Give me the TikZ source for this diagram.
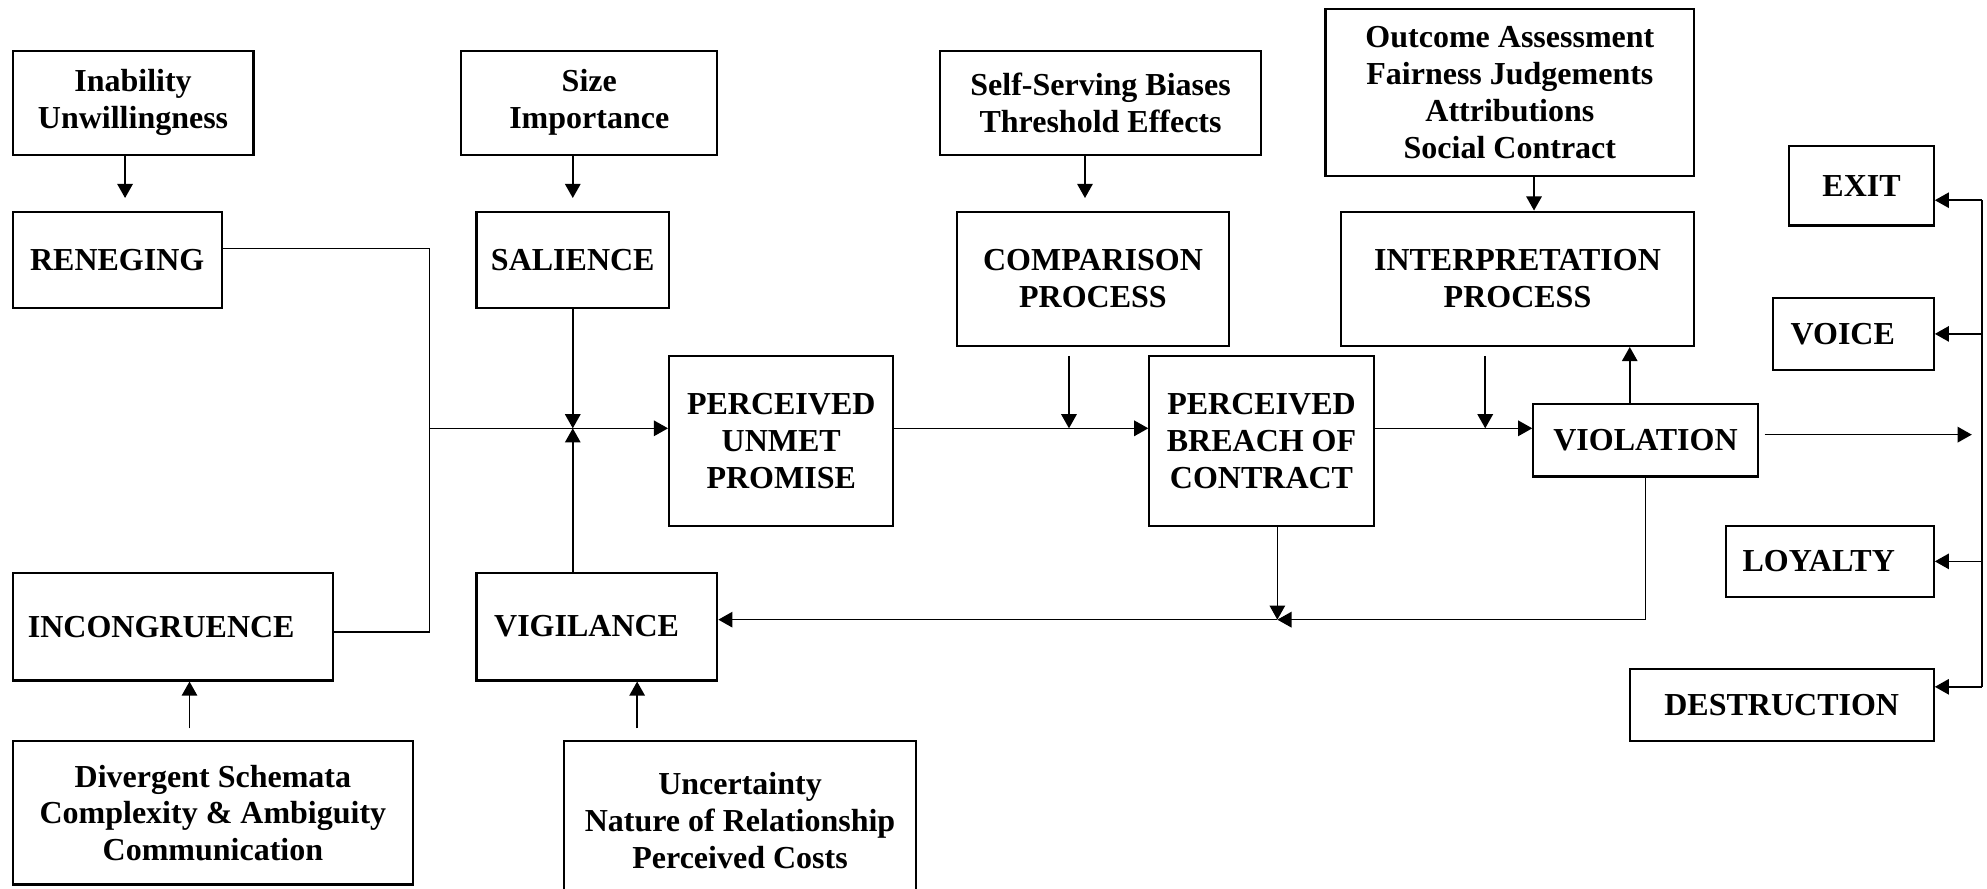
\documentclass[tikz,border=0pt]{standalone}
\usepackage{fontspec}
\setmainfont{Liberation Serif}
\usepackage{tikz}
\usetikzlibrary{arrows.meta}

\begin{document}
\begin{tikzpicture}[x=0.4752pt,y=-0.4752pt,
  box/.style={draw,line width=0.8pt,inner sep=0pt,align=center,font=\fontsize{12}{13.8}\selectfont\bfseries},
  sz/.style 2 args={minimum width=#1*0.4752pt,minimum height=#2*0.4752pt},
  link/.style={line width=0.6pt},
  arr/.style={link,-{Triangle[length=5.3pt,width=5.8pt]}},
  gap/.style={shorten >=4.7pt}]
\useasboundingbox (0,0) rectangle (1568,701);

\node[box,sz={190}{82}] (inab) at (105,81) {Inability\\Unwillingness};
\node[box,sz={202}{82}] (size) at (465,81) {Size\\Importance};
\node[box,sz={253}{82}] (self) at (868.5,81) {Self-Serving Biases\\Threshold Effects};
\node[box,sz={291}{132}] (outc) at (1191.5,73) {Outcome Assessment\\Fairness Judgements\\Attributions\\Social Contract};
\node[box,sz={165}{76}] (reneg) at (92.5,205) {RENEGING};
\node[box,sz={152}{76}] (sal) at (452,205) {SALIENCE};
\node[box,sz={215}{106}] (comp) at (862.5,220) {COMPARISON\\PROCESS};
\node[box,sz={279}{106}] (interp) at (1197.5,220) {INTERPRETATION\\PROCESS};
\node[box,sz={177}{134}] (unmet) at (616.5,348) {PERCEIVED\\UNMET\\PROMISE};
\node[box,sz={177}{134}] (breach) at (995.5,348) {PERCEIVED\\BREACH OF\\CONTRACT};
\node[box,sz={177}{57}] (viol) at (1298.5,347.5) {VIOLATION};
\node[box,sz={114}{63}] (exit) at (1469,146.5) {EXIT};
\node[box,sz={127}{57},text width=47pt,align=left] (voice) at (1462.5,263.5) {VOICE};
\node[box,sz={164}{56},text width=65.5pt,align=left] (loyal) at (1444,443) {LOYALTY};
\node[box,sz={240}{57}] (destr) at (1406,556.5) {DESTRUCTION};
\node[box,sz={253}{85},text width=108.8pt,align=left] (incong) at (136.5,494.5) {INCONGRUENCE};
\node[box,sz={190}{85},text width=77pt,align=left] (vig) at (471,494.5) {VIGILANCE};
\node[box,sz={316}{113}] (div) at (168,641.5) {Divergent Schemata\\Complexity \& Ambiguity\\Communication};
\node[box,sz={278}{125}] (unc) at (584,647.5) {Uncertainty\\Nature of Relationship\\Perceived Costs};

\coordinate (j1) at (339,338);
\coordinate (j2) at (1008,489);
\coordinate (vout) at (1556,343);
\coordinate (railtop) at (1564,158);
\coordinate (railbot) at (1564,542);
\coordinate (a1) at ([xshift=-3pt]inab.south);
\coordinate (a2) at ([xshift=-3pt]comp.north);
\coordinate (a3) at ([xshift=6.2pt]interp.north);
\coordinate (a4) at ([xshift=-9pt]comp.south);
\coordinate (a5) at ([xshift=-12.1pt]interp.south);
\coordinate (a6) at ([xshift=-5.9pt]viol.north);
\coordinate (a7) at ([xshift=6.2pt]incong.south);
\coordinate (a8) at ([xshift=15.1pt]vig.south);

\draw[arr,gap] (a1) -- (a1 |- reneg.north);
\draw[arr,gap] (size.south -| sal.north) -- (sal.north);
\draw[arr,gap] (a2 |- self.south) -- (a2);
\draw[arr] (a3 |- outc.south) -- (a3);
\draw[link] ([yshift=4.3pt]reneg.east) -| (j1);
\draw[link] ([yshift=-2pt]incong.east) -| (j1);
\draw[arr] (j1) -- (j1 -| unmet.west);
\draw[arr] (sal.south) -- (sal.south |- j1);
\draw[arr] (vig.north -| sal.south) -- (sal.south |- j1);
\draw[arr] (unmet.east |- j1) -- (breach.west |- j1);
\draw[arr,shorten <=3.3pt] (a4) -- (a4 |- j1);
\draw[arr] (breach.east |- j1) -- (viol.west |- j1);
\draw[arr,shorten <=3.3pt] (a5) -- (a5 |- j1);
\draw[arr] (a6) -- (a6 |- interp.south);
\draw[arr,shorten <=2.2pt] (viol.east |- vout) -- (vout);
\draw[link] (railtop) -- (railbot);
\draw[arr] (railtop) -- (railtop -| exit.east);
\draw[arr] (railtop |- voice.east) -- (voice.east);
\draw[arr] (railtop |- loyal.east) -- (loyal.east);
\draw[arr] (railbot) -- (railbot -| destr.east);
\draw[arr] (breach.south -| j2) -- (j2);
\draw[arr] (viol.south) |- (j2);
\draw[arr] (j2) -- (j2 -| vig.east);
\draw[arr,shorten <=4.5pt] (a7 |- div.north) -- (a7);
\draw[arr,shorten <=4.5pt] (a8 |- unc.north) -- (a8);
\end{tikzpicture}
\end{document}
